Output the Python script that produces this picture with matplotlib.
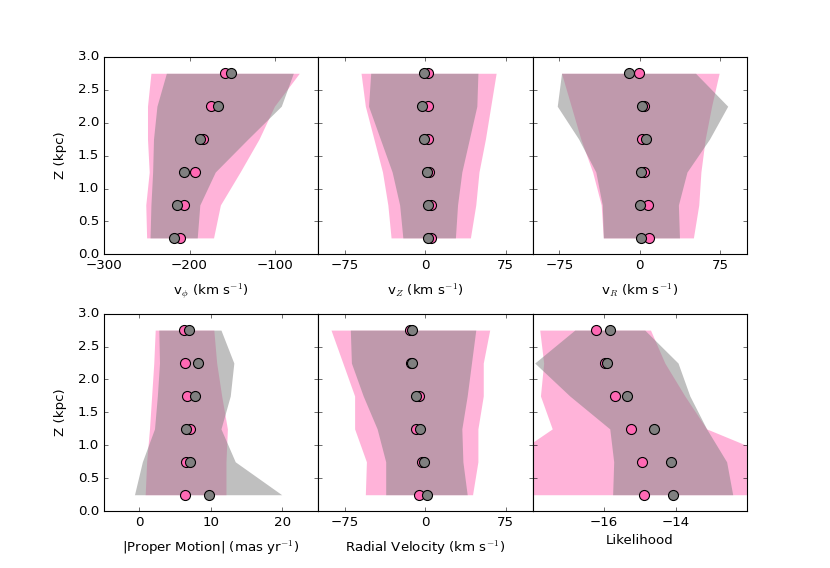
import matplotlib
matplotlib.use("Agg")
import matplotlib.pyplot as plt

plt.style.use("classic")
plt.rcParams["font.family"] = ["DejaVu Sans"]
plt.rcParams["mathtext.fontset"] = "cm"

# Height bins (kpc)
z = [0.25, 0.75, 1.25, 1.75, 2.25, 2.75]

# v_phi
vphi_pink = [-211, -206, -194, -184, -175, -159]
vphi_gray = [-218, -215, -206, -188, -167, -152]
vphi_pink_lo = [-250, -251, -247, -249, -249, -245]
vphi_pink_hi = [-172, -164, -141, -119, -101, -72]
vphi_gray_lo = [-246, -245, -243, -242, -238, -227]
vphi_gray_hi = [-191, -188, -170, -132, -93, -79]

# v_Z
vz_pink = [5.3, 5.3, 3.8, 2.8, 2.8, 2.8]
vz_gray = [2.8, 2.8, 1.3, -1.2, -3.4, -0.9]
vz_pink_lo = [-32, -35, -40, -48, -56, -60]
vz_pink_hi = [42, 47, 50, 56, 61, 66]
vz_gray_lo = [-21, -24, -31, -42, -53, -51]
vz_gray_hi = [28, 30, 34, 41, 48, 49]

# v_R
vr_pink = [8.7, 7.8, 3.7, 2.5, 3.5, -0.6]
vr_gray = [0.9, 0.0, 0.9, 5.6, 2.5, -10.3]
vr_pink_lo = [-34, -36, -44, -55, -64, -73]
vr_pink_hi = [50, 55, 57, 61, 67, 74]
vr_gray_lo = [-34, -35, -41, -57, -77, -73]
vr_gray_hi = [37, 36, 44, 65, 82, 52]

# |Proper motion|
pm_pink = [6.4, 6.5, 7.0, 6.7, 6.3, 6.2]
pm_gray = [9.7, 7.1, 6.5, 7.8, 8.2, 6.9]
pm_pink_lo = [0.8, 1.0, 1.4, 1.7, 2.0, 2.2]
pm_pink_hi = [12.1, 12.1, 12.3, 11.5, 10.8, 10.4]
pm_gray_lo = [-0.7, 0.4, 2.1, 2.5, 2.8, 2.7]
pm_gray_hi = [19.9, 13.4, 11.4, 12.7, 13.2, 11.4]

# Radial velocity
rv_pink = [-5.9, -2.8, -9.0, -5.9, -13.0, -14.3]
rv_gray = [1.3, -0.9, -4.9, -9.0, -12.1, -12.1]
rv_pink_lo = [-56, -55, -66, -66, -77, -88]
rv_pink_hi = [44, 49, 49, 54, 54, 60]
rv_gray_lo = [-37, -37, -45, -58, -69, -70]
rv_gray_hi = [39, 35, 34, 39, 43, 47]

# Likelihood
lk_pink = [-14.89, -14.95, -15.26, -15.70, -15.98, -16.23]
lk_gray = [-14.08, -14.13, -14.60, -15.35, -15.93, -15.84]
lk_pink_lo = [-19.0, -18.8, -17.45, -17.78, -17.69, -17.80]
lk_pink_hi = [-11.0, -10.9, -13.13, -13.74, -14.30, -14.70]
lk_gray_lo = [-15.76, -15.73, -15.84, -16.96, -17.94, -16.82]
lk_gray_hi = [-12.40, -12.57, -13.13, -13.60, -13.93, -14.86]

xlabels = [r"v$_\phi$ (km s$^{-1}$)", r"v$_Z$ (km s$^{-1}$)", r"v$_R$ (km s$^{-1}$)",
           r"|Proper Motion| (mas yr$^{-1}$)", r"Radial Velocity (km s$^{-1}$)", "Likelihood"]
xlims = [(-300, -50), (-100, 100), (-100, 100), (-5, 25), (-100, 100), (-18, -12)]
xticks = [[-300, -200, -100], [-75, 0, 75], [-75, 0, 75], [0, 10, 20], [-75, 0, 75], [-16, -14]]
yticks = [0.0, 0.5, 1.0, 1.5, 2.0, 2.5, 3.0]

panels = [
    (vphi_pink, vphi_gray, vphi_pink_lo, vphi_pink_hi, vphi_gray_lo, vphi_gray_hi),
    (vz_pink, vz_gray, vz_pink_lo, vz_pink_hi, vz_gray_lo, vz_gray_hi),
    (vr_pink, vr_gray, vr_pink_lo, vr_pink_hi, vr_gray_lo, vr_gray_hi),
    (pm_pink, pm_gray, pm_pink_lo, pm_pink_hi, pm_gray_lo, pm_gray_hi),
    (rv_pink, rv_gray, rv_pink_lo, rv_pink_hi, rv_gray_lo, rv_gray_hi),
    (lk_pink, lk_gray, lk_pink_lo, lk_pink_hi, lk_gray_lo, lk_gray_hi),
]

PINK = "#ff69b4"
GRAY = "#808080"

fig, axes = plt.subplots(2, 3, figsize=(830 / 80, 568 / 80), dpi=80)
fig.patch.set_facecolor("white")
fig.subplots_adjust(left=0.125, right=0.9, bottom=0.1, top=0.9, wspace=0.0, hspace=0.3)

for i, ax in enumerate(axes.flat):
    p, g, plo, phi, glo, ghi = panels[i]
    ax.set_facecolor("white")
    ax.fill_betweenx(z, plo, phi, color=PINK, alpha=0.5, linewidth=0, zorder=1)
    ax.fill_betweenx(z, glo, ghi, color=GRAY, alpha=0.5, linewidth=0, zorder=2)
    ax.plot(p, z, "o", color=PINK, markeredgecolor="black", markeredgewidth=1,
            markersize=9, zorder=3)
    ax.plot(g, z, "o", color=GRAY, markeredgecolor="black", markeredgewidth=1,
            markersize=9, zorder=4)
    ax.set_xlim(*xlims[i])
    ax.set_ylim(0, 3)
    ax.set_xticks(xticks[i])
    ax.set_yticks(yticks)
    pad = 9 if "$" in xlabels[i] else 5
    ax.set_xlabel(xlabels[i], fontsize=12, labelpad=pad)
    if i % 3 == 0:
        ax.set_ylabel("Z (kpc)", fontsize=12, labelpad=10)
        ax.set_yticklabels(["%.1f" % t for t in yticks])
    else:
        ax.set_yticklabels([])
    ax.tick_params(direction="in", top=True, right=True, labelsize=12)

fig.savefig("out.png", dpi=80, facecolor="white")
